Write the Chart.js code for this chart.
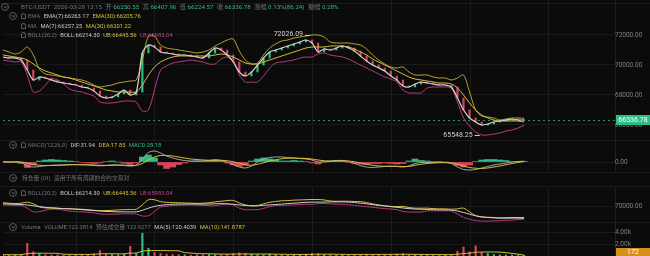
<!DOCTYPE html>
<html>
<head>
<meta charset="utf-8">
<script src="https://cdn.jsdelivr.net/npm/chart.js@4.4.1/dist/chart.umd.min.js"></script>
<style>
  html, body { margin: 0; padding: 0; background: #0b0b0b; }
  #wrap { position: relative; width: 650px; height: 256px; overflow: hidden; background: #0b0b0b;
          font-family: Roboto, "Noto Sans CJK SC", sans-serif; }
  .pane { position: absolute; left: 0; width: 650px; }
  .sep { position: absolute; left: 0; width: 650px; height: 1px; background: #1b1b1b; }
  .row { position: absolute; display: flex; align-items: center; height: 8px; white-space: nowrap;
         font-size: 5.8px; line-height: 8px; color: #6f747c; }
  .row span { margin-right: 3.5px; }
  .row span.l { margin-right: 1.5px; }
  .g { color: #2ebd85; } .w { color: #c9c9c9; } .y { color: #d6c03a; } .m { color: #c2408a; }
  .ic { position: absolute; width: 6px; height: 6px; border: 1px solid #555a62; border-radius: 50%; }
  .ic:after { content: ''; position: absolute; left: 1.5px; top: 0.5px; width: 2px; height: 2px;
              border-right: 1px solid #555a62; border-bottom: 1px solid #555a62; transform: rotate(45deg); }
  .bell { position: absolute; width: 3px; height: 4px; border: 1px solid #555a62; border-radius: 3px 3px 1px 1px; }
  .tag { position: absolute; left: 616px; width: 34px; height: 9px; font-size: 7px; line-height: 9px;
         text-align: center; color: #fff; background: #d8901c; }
</style>
</head>
<body>
<div id="wrap">
  <div class="sep" style="top:3px"></div>
  <div class="sep" style="top:140px"></div>
  <div class="sep" style="top:172px"></div>
  <div class="sep" style="top:186px"></div>
  <div class="sep" style="top:222px"></div>
  <div class="pane" style="top:0;height:140px"><canvas id="cPrice"></canvas></div>
  <div class="pane" style="top:140px;height:32px"><canvas id="cMacd"></canvas></div>
  <div class="pane" style="top:186px;height:36px"><canvas id="cBoll"></canvas></div>
  <div class="pane" style="top:222px;height:34px"><canvas id="cVol"></canvas></div>
  <div class="tag" style="top:248px">172</div>
</div>
<script>
// 15m closes (one value per ~6px)
const closes = [
  70533, 70467, 70467, 70333, 69667, 69000, 69200, 69133, 69000, 68867,
  68800, 68733, 68667, 68533, 68467, 68267, 67933, 67800, 67867, 68067,
  68333, 68000, 68200, 70800, 71333, 71200, 70867, 70800, 70733, 70667,
  70667, 70600, 70533, 70467, 70800, 71133, 71000, 70667, 70200, 69533,
  69267, 69533, 70000, 70467, 70867, 71000, 71133, 71267, 71400, 71533,
  71667, 71467, 70867, 71067, 71000, 71133, 71267, 71133, 70933, 70600,
  70267, 70000, 69800, 69600, 69267, 69000, 68600, 68533, 68733, 68867,
  68800, 68733, 68667, 68667, 68533, 67800, 67000, 66467, 66200, 66000,
  66067, 66200, 66267, 66333, 66400, 66333, 66336.78
];
// BOLL upper band (yellow)
const ub = [
  71000, 70867, 70733, 70867, 71200, 70667, 69733, 69400, 69333, 69267,
  69200, 69133, 69067, 69000, 68867, 68667, 68533, 68600, 68667, 68800,
  68867, 68933, 69000, 70333, 71933, 71933, 71333, 71133, 71067, 71000,
  70933, 70867, 70800, 70867, 71000, 71267, 71467, 71667, 71733, 70933,
  70333, 70067, 70133, 70667, 71133, 71400, 71600, 71667, 71800, 71867,
  71933, 72000, 72000, 71867, 71533, 71467, 71467, 71467, 71400, 71333,
  71067, 70667, 70333, 70067, 69867, 69800, 69867, 69533, 69333, 69333,
  69333, 69200, 69133, 69133, 69000, 69133, 69333, 68200, 67000, 66600,
  66533, 66467, 66333, 66400, 66467, 66467, 66445.56
];
// BOLL lower band (magenta)
const lb = [
  70333, 70267, 70200, 70200, 69333, 68200, 68267, 68667, 69067, 69000,
  68733, 68400, 68267, 68200, 68067, 67933, 67533, 67467, 67467, 67533,
  67600, 67600, 67533, 66933, 67000, 68333, 69667, 69933, 70133, 70200,
  70267, 70333, 70267, 70200, 70067, 70067, 70400, 70533, 70333, 69333,
  68867, 68867, 68867, 69267, 69800, 70133, 70200, 70267, 70333, 70467,
  70533, 70533, 70733, 70800, 70667, 70600, 70533, 70400, 70200, 70000,
  69800, 69600, 69400, 69200, 69067, 68867, 68333, 68133, 68133, 68133,
  68467, 68533, 68533, 68533, 68467, 67533, 66467, 65933, 65533, 65333,
  65333, 65400, 65467, 65600, 65667, 65800, 65983.04
];
// MA(30) (slow yellow)
const ma30 = [
  70667, 70600, 70533, 70467, 70333, 70067, 69800, 69600, 69467, 69333,
  69200, 69133, 69000, 68867, 68733, 68600, 68467, 68333, 68267, 68200,
  68200, 68200, 68200, 68667, 69333, 69867, 70200, 70400, 70533, 70600,
  70600, 70600, 70600, 70600, 70600, 70667, 70733, 70667, 70533, 70333,
  70133, 70067, 70067, 70200, 70333, 70467, 70600, 70733, 70867, 71000,
  71133, 71200, 71200, 71200, 71267, 71267, 71267, 71200, 71067, 70867,
  70667, 70400, 70200, 70000, 69800, 69600, 69400, 69200, 69067, 69000,
  68933, 68867, 68800, 68800, 68733, 68467, 68000, 67467, 67000, 66667,
  66467, 66333, 66267, 66267, 66267, 66267, 66201.22
];
// MACD pane
const dif = [
  0, 0, 0, -20, -160, -200, -180, -150, -130, -120,
  -110, -100, -100, -110, -120, -140, -150, -140, -120, -120,
  -140, -160, -120, 120, 380, 440, 360, 240, 160, 100,
  60, 40, 40, 40, 60, 80, 60, 0, -100, -200,
  -240, -160, 0, 120, 180, 200, 200, 180, 160, 140,
  120, 80, 0, 0, 20, 60, 60, 20, -60, -140,
  -200, -220, -200, -180, -170, -180, -200, -160, -60, -20,
  -20, -20, -20, -20, -60, -200, -300, -320, -300, -240,
  -180, -120, -80, -40, 0, 20, 31.94
];
const dea = [
  0, 0, 0, 0, -40, -100, -130, -140, -140, -135,
  -125, -115, -110, -110, -110, -120, -130, -135, -130, -125,
  -130, -140, -135, -60, 80, 200, 260, 260, 240, 200,
  160, 120, 100, 80, 70, 75, 70, 50, 10, -50,
  -110, -130, -90, -30, 40, 90, 130, 150, 155, 150,
  140, 120, 80, 50, 40, 45, 50, 40, 10, -40,
  -90, -130, -160, -170, -170, -170, -180, -175, -130, -90,
  -60, -40, -30, -25, -35, -90, -160, -220, -250, -260,
  -240, -200, -160, -110, -60, -20, 17.85
];
const hist = [
  20, -20, 20, -60, -220, -120, 40, 80, 100, 80,
  60, 40, 20, -20, -40, -60, -40, 20, 40, 0,
  -60, -100, -40, 200, 280, 160, -120, -260, -200, -100,
  -40, 20, 40, 20, 60, 80, 40, -40, -120, -180,
  -120, 40, 120, 160, 120, 80, 40, 40, 60, 40,
  20, -40, -80, 20, 40, 60, 40, -20, -60, -80,
  -100, -60, -60, -40, -60, -80, -60, 40, 120, 60,
  40, 20, 20, 0, -40, -140, -200, -120, 20, 80,
  100, 100, 80, 60, 20, 20, 28.18
];
// volume and its MA(10)
const volumes = [
  180, 150, 200, 260, 2100, 700, 350, 220, 160, 200,
  170, 140, 180, 210, 240, 380, 900, 300, 220, 190,
  300, 1600, 450, 3800, 1300, 600, 420, 300, 260, 230,
  200, 170, 210, 180, 240, 210, 170, 250, 380, 520,
  430, 300, 240, 200, 320, 240, 200, 170, 210, 240,
  300, 450, 380, 240, 200, 170, 250, 200, 170, 240,
  320, 280, 240, 200, 280, 320, 380, 240, 200, 170,
  170, 140, 180, 150, 260, 800, 1500, 700, 1700, 600,
  420, 260, 190, 160, 140, 120, 122.38
];
const volMa10 = [
  220, 210, 210, 220, 400, 450, 460, 460, 450, 440,
  300, 280, 270, 270, 270, 290, 360, 370, 370, 360,
  350, 480, 500, 820, 900, 920, 920, 900, 880, 860,
  560, 500, 400, 380, 360, 340, 320, 310, 320, 330,
  340, 330, 330, 330, 320, 300, 290, 280, 270, 260,
  260, 280, 300, 300, 300, 290, 280, 270, 260, 260,
  260, 270, 270, 270, 270, 280, 290, 290, 280, 270,
  260, 250, 240, 230, 230, 290, 420, 470, 620, 660,
  680, 660, 640, 560, 420, 300, 141.88
];
const priceTicks = [66000, 68000, 70000, 72000];
const bollTicks = [70000];
const macdTicks = [0];
const volTicks = [2000, 4000];
const highIdx = 51, highPrice = 72026.09;
const lowIdx = 79, lowPrice = 65548.25;

const GREEN = '#2ebd85', RED = '#d9455a', YELLOW = '#d6c03a', YELLOW_DIM = '#b8a332',
      MAGENTA = '#b83b80', WHITE = '#d4d4d4', GRID = '#1a1a1a';
const slots = 102; // empty room on the right after the last candle
const labels = [...Array(slots).keys()];

const candles = closes.map((c, i) => [i ? closes[i - 1] : c, c]);
const upDown = closes.map((c, i) => (i && c < closes[i - 1]) ? RED : GREEN);

// vertical grid lines, drawn under the data
const vGrid = {
  id: 'vGrid',
  beforeDatasetsDraw(chart) {
    const { ctx, chartArea, scales } = chart;
    ctx.save();
    ctx.strokeStyle = GRID;
    ctx.lineWidth = 1;
    labels.forEach(i => {
      if (i % 13 !== 12) return;
      const x = Math.round(scales.x.getPixelForValue(i)) + 0.5;
      ctx.beginPath();
      ctx.moveTo(x, chartArea.top);
      ctx.lineTo(x, chartArea.bottom);
      ctx.stroke();
    });
    ctx.restore();
  },
};

function baseOptions(min, max, ticks, fmt) {
  return {
    responsive: true,
    maintainAspectRatio: false,
    animation: false,
    layout: { padding: { left: 3, right: 0, top: 0, bottom: 0 } },
    elements: {
      point: { radius: 0 },
      line: { borderWidth: 1, tension: 0.3, fill: false },
    },
    plugins: { legend: { display: false }, tooltip: { enabled: false } },
    scales: {
      x: { type: 'category', offset: false, display: false },
      y: {
        position: 'right',
        min: min,
        max: max,
        afterBuildTicks: s => { s.ticks = ticks.map(v => ({ value: v })); },
        afterFit: s => { s.width = 35; s.paddingTop = 0; s.paddingBottom = 0; },
        ticks: { color: '#808080', font: { size: 6.5, family: 'Roboto' }, padding: 0, crossAlign: 'center', callback: fmt },
        grid: { color: GRID, drawTicks: false },
        border: { color: '#1e1e1e' },
      },
    },
  };
}

const priceMarks = {
  id: 'priceMarks',
  beforeDatasetsDraw(chart) {
    const { ctx, chartArea, scales } = chart;
    const y = Math.round(scales.y.getPixelForValue(closes[closes.length - 1])) + 0.5;
    ctx.save();
    ctx.strokeStyle = 'rgba(46,189,133,0.75)';
    ctx.lineWidth = 1;
    ctx.setLineDash([2, 3]);
    ctx.beginPath();
    ctx.moveTo(chartArea.left, y);
    ctx.lineTo(chartArea.right, y);
    ctx.stroke();
    ctx.restore();
  },
  afterDraw(chart) {
    const { ctx, chartArea, scales } = chart;
    const last = closes[closes.length - 1];
    const y = scales.y.getPixelForValue(last);
    ctx.save();
    ctx.fillStyle = GREEN;
    ctx.fillRect(chartArea.right + 1, Math.round(y) - 5, 34, 10);
    ctx.fillStyle = '#ffffff';
    ctx.font = '7px Roboto';
    ctx.textAlign = 'center';
    ctx.textBaseline = 'middle';
    ctx.fillText(last.toFixed(2), chartArea.right + 18, Math.round(y) + 0.5);

    // high / low markers
    ctx.fillStyle = '#d0d0d0';
    ctx.strokeStyle = '#d0d0d0';
    ctx.textAlign = 'right';
    [[highIdx, highPrice, 0], [lowIdx, lowPrice, 3]].forEach(([i, v, dy]) => {
      const x = scales.x.getPixelForValue(i);
      const py = scales.y.getPixelForValue(v) + dy;
      ctx.fillText(v.toFixed(2), x - 9, py);
      ctx.beginPath();
      ctx.moveTo(x - 7, Math.round(py) + 0.5);
      ctx.lineTo(x - 2, Math.round(py) + 0.5);
      ctx.stroke();
    });
    ctx.restore();
  },
};

new Chart(document.getElementById('cPrice'), {
  type: 'line',
  data: {
    labels,
    datasets: [
      { type: 'bar', data: candles, backgroundColor: upDown, barThickness: 1.5, order: 10 },
      { data: ub, borderColor: YELLOW_DIM, order: 6 },
      { data: lb, borderColor: MAGENTA, order: 6 },
      { data: ma30, borderColor: YELLOW, order: 4 },
      { data: closes, borderColor: WHITE, borderWidth: 1.2, order: 2 },
    ],
  },
  options: baseOptions(65000, 74333.33, priceTicks, v => v.toFixed(2)),
  plugins: [vGrid, priceMarks],
});

new Chart(document.getElementById('cMacd'), {
  type: 'line',
  data: {
    labels,
    datasets: [
      { type: 'bar', data: hist, backgroundColor: hist.map(v => (v >= 0 ? GREEN : RED)),
        barPercentage: 1, categoryPercentage: 1, order: 10 },
      { data: dif, borderColor: '#a8a8a8', order: 4 },
      { data: dea, borderColor: YELLOW, order: 2 },
    ],
  },
  options: baseOptions(-400, 880, macdTicks, v => v.toFixed(2)),
  plugins: [vGrid],
});

new Chart(document.getElementById('cBoll'), {
  type: 'line',
  data: {
    labels,
    datasets: [
      { data: ub, borderColor: YELLOW, order: 4 },
      { data: lb, borderColor: MAGENTA, order: 4 },
      { data: ma30, borderColor: WHITE, order: 2 },
    ],
  },
  options: baseOptions(65072, 76160, bollTicks, v => v.toFixed(2)),
  plugins: [vGrid],
});

new Chart(document.getElementById('cVol'), {
  type: 'line',
  data: {
    labels,
    datasets: [
      { type: 'bar', data: volumes, backgroundColor: upDown, barThickness: 1.5, order: 10 },
      { data: volMa10, borderColor: YELLOW, order: 2 },
    ],
  },
  options: baseOptions(0, 5666.7, volTicks, v => (v / 1000).toFixed(2) + 'k'),
  plugins: [vGrid],
});

// header rows
const wrap = document.getElementById('wrap');
function row(x, yc, items, size) {
  const d = document.createElement('div');
  d.className = 'row';
  d.style.left = x + 'px';
  d.style.top = (yc - 4) + 'px';
  if (size) d.style.fontSize = size + 'px';
  items.forEach(([text, cls]) => {
    const s = document.createElement('span');
    if (cls) s.className = cls;
    s.textContent = text;
    d.appendChild(s);
  });
  wrap.appendChild(d);
}
function icon(x, yc, kind) {
  const s = document.createElement('span');
  s.className = kind;
  s.style.left = x + 'px';
  s.style.top = (yc - (kind === 'ic' ? 4 : 3)) + 'px';
  wrap.appendChild(s);
}
const bollItems = [['BOLL(20,2)'], ['BOLL:66214.30', 'w'], ['UB:66445.56', 'y'], ['LB:65983.04', 'm']];

icon(1, 7, 'ic');
row(21, 7, [
  ['BTC/USDT'], ['2026-03-28 13:15'],
  ['开', 'l'], ['66250.55', 'g'], ['高', 'l'], ['66407.96', 'g'],
  ['低', 'l'], ['66224.57', 'g'], ['收', 'l'], ['66336.78', 'g'],
  ['涨幅', 'l'], ['0.13%(86.24)', 'g'], ['振幅', 'l'], ['0.28%', 'g'],
], 6.2);

icon(9, 16, 'ic'); icon(21, 16, 'bell');
row(28, 16, [['EMA'], ['EMA(7):66263.17', 'w'], ['EMA(30):66205.76', 'y']]);
icon(21, 26, 'bell');
row(28, 26, [['MA'], ['MA(7):66257.25', 'w'], ['MA(30):66201.22', 'y']]);
icon(21, 35, 'bell');
row(28, 35, bollItems);

icon(9, 145, 'ic'); icon(21, 145, 'bell');
row(28, 145, [['MACD(12,26,9)'], ['DIF:31.94', 'w'], ['DEA:17.85', 'y'], ['MACD:28.18', 'g']]);

icon(9, 178, 'ic');
row(22, 178, [['持仓量 (OI)'], ['适用于所有周期的合约交易对']]);

icon(9, 193, 'ic'); icon(21, 193, 'bell');
row(28, 193, bollItems);

icon(9, 227, 'ic');
row(21, 227, [['Volume'], ['VOLUME:122.3814'], ['预估成交量:122.9277'], ['MA(5):120.4039', 'w'], ['MA(10):141.8787', 'y']]);
</script>
</body>
</html>
